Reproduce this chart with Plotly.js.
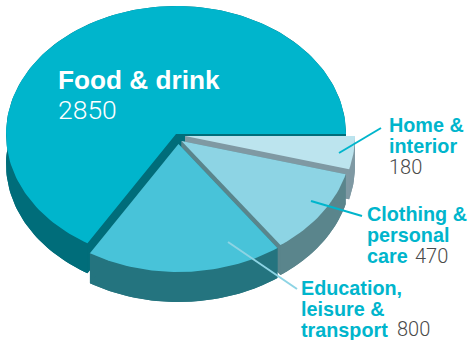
<!DOCTYPE html>
<html>
<head>
<meta charset="utf-8">
<script src="https://cdn.plot.ly/plotly-3.0.1.min.js"></script>
<style>html,body{margin:0;padding:0;background:#fff}#chart{width:470px;height:340px}</style>
</head>
<body>
<div id="chart"></div>
<script>
// Spending by category, clockwise from the three o'clock position
const categories = ["Home & interior", "Clothing & personal care", "Education, leisure & transport", "Food & drink"];
const values = [180, 470, 800, 2850];

// Surface and side colours of each slice
const topColors = ["#bce4ee", "#8dd4e4", "#48c3d9", "#00b5cc"];
const wallColors = ["#7f99a3", "#5a858c", "#24747f", "#006d7a"];

// How far each slice is pulled away from the pie's centre
const pullX = [9, 5.5, 2.5, 0];
const pullY = [2, 7, 10, 0];

// Pie geometry
const cx = 176, cy = 134, rx = 170, ry = 128, depth = 30;

const total = values.reduce((a, b) => a + b, 0);

function arc(i, from, to, dy) {
  const xs = [], ys = [], n = Math.ceil(Math.abs(to - from) / 1.5);
  for (let k = 0; k <= n; k++) {
    const t = (from + (to - from) * k / n) * Math.PI / 180;
    xs.push(cx + pullX[i] + rx * Math.cos(t));
    ys.push(cy + pullY[i] + dy + ry * Math.sin(t));
  }
  return [xs, ys];
}

function poly(xs, ys, color) {
  return {
    x: xs.concat(xs[0]), y: ys.concat(ys[0]), type: "scatter", mode: "lines",
    fill: "toself", fillcolor: color, line: {width: 0, color: color}, hoverinfo: "skip"
  };
}

const traces = [];
// Paint order runs back to front: food first, then the pulled-out slices
[3, 0, 1, 2].forEach(i => {
  const before = values.slice(0, i).reduce((a, b) => a + b, 0);
  const a0 = before / total * 360, a1 = (before + values[i]) / total * 360;
  const ax = cx + pullX[i], ay = cy + pullY[i];
  const [tx, ty] = arc(i, a0, a1, 0);
  const [bx, by] = arc(i, a0, a1, depth);
  const wall = wallColors[i];
  traces.push(poly([ax].concat(bx), [ay + depth].concat(by), wall));
  traces.push(poly(tx.concat(bx.slice().reverse()), ty.concat(by.slice().reverse()), wall));
  traces.push(poly([ax, tx[0], bx[0], ax], [ay, ty[0], by[0], ay + depth], wall));
  const e = tx.length - 1;
  traces.push(poly([ax, tx[e], bx[e], ax], [ay, ty[e], by[e], ay + depth], wall));
  traces.push(poly([ax].concat(tx), [ay].concat(ty), topColors[i]));
});

// Leader lines from the slices to their labels
const leaderX = [[339, 381], [311, 362], [228, 297]];
const leaderY = [[153, 128], [201, 216], [242, 289]];
const leaderColors = ["#00b5cc", "#00b5cc", "#8dd4e4"];
leaderX.forEach((lx, i) => traces.push({
  x: lx, y: leaderY[i], type: "scatter", mode: "lines",
  line: {width: 2, color: leaderColors[i]}, hoverinfo: "skip"
}));

const SANS = "Liberation Sans, Arial, sans-serif";
const LIGHT = "Roboto, Liberation Sans, sans-serif";
function label(x, y, text, size, color, family, weight) {
  return {
    x, y, text, xref: "x", yref: "y", xanchor: "left", yanchor: "middle", showarrow: false,
    borderpad: 0, borderwidth: 0, align: "left",
    font: {family, size, color, weight}
  };
}
const BLUE = "#00b5cc", GREY = "#4a4a4a", HEAD = 19.8, NUM = 20;
const annotations = [
  label(58, 80, "Food & drink", 26.2, "#ffffff", SANS, 700),
  label(58, 109, String(values[3]), 26.5, "#ffffff", LIGHT, 300),
  label(389, 125, "Home &", HEAD, BLUE, SANS, 700),
  label(389, 146, "interior", HEAD, BLUE, SANS, 700),
  label(389, 167, String(values[0]), NUM, GREY, LIGHT, 300),
  label(367, 214, "Clothing &", HEAD, BLUE, SANS, 700),
  label(367, 235, "personal", HEAD, BLUE, SANS, 700),
  label(367, 256, "care", HEAD, BLUE, SANS, 700),
  label(415, 256, String(values[1]), NUM, GREY, LIGHT, 300),
  label(301, 288, "Education,", HEAD, BLUE, SANS, 700),
  label(301, 309, "leisure &", HEAD, BLUE, SANS, 700),
  label(301, 330, "transport", HEAD, BLUE, SANS, 700),
  label(397, 328.5, String(values[2]), NUM, GREY, LIGHT, 300)
];

Plotly.newPlot("chart", traces, {
  width: 470, height: 340,
  margin: {l: 0, r: 0, t: 0, b: 0},
  paper_bgcolor: "#ffffff", plot_bgcolor: "#ffffff",
  showlegend: false,
  xaxis: {range: [0, 470], visible: false, fixedrange: true},
  yaxis: {range: [340, 0], visible: false, fixedrange: true},
  annotations
}, {displayModeBar: false, staticPlot: true});
</script>
</body>
</html>
